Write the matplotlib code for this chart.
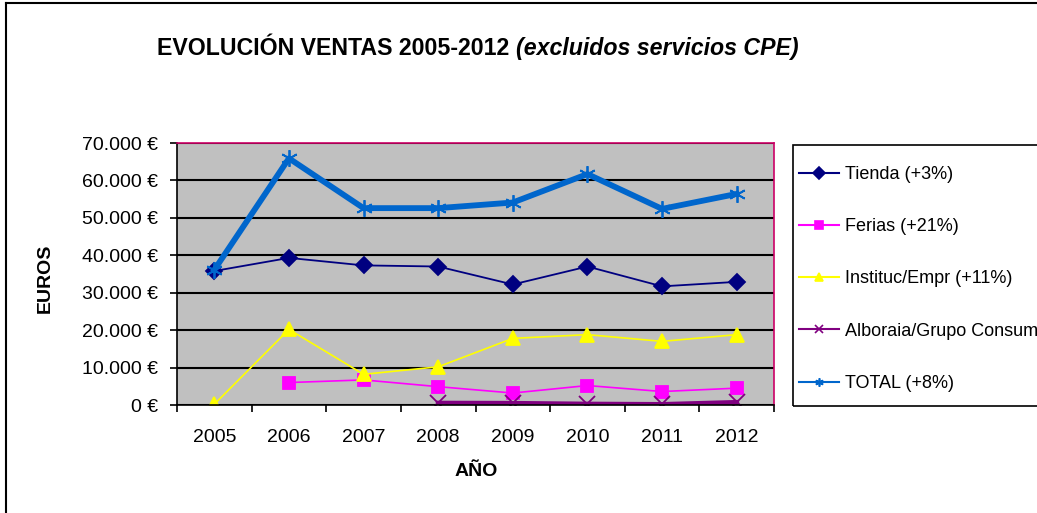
import matplotlib
matplotlib.use("Agg")
import matplotlib.pyplot as plt
from matplotlib.lines import Line2D
from matplotlib.patches import Rectangle
from matplotlib.ticker import FuncFormatter

plt.rcParams['font.family'] = ['Liberation Sans', 'DejaVu Sans']

# datos
years = [2005, 2006, 2007, 2008, 2009, 2010, 2011, 2012]
tienda = [35800, 39300, 37300, 37000, 32200, 37000, 31700, 32900]
ferias = [None, 6000, 6700, 4900, 3200, 5200, 3600, 4500]
instituc = [200, 20200, 8200, 10200, 17800, 18800, 17000, 18800]
alboraia = [None, None, None, 500, 450, 250, 150, 700]
total = [36100, 65900, 52600, 52600, 54100, 61700, 52400, 56400]

labels = ["Tienda (+3%)", "Ferias (+21%)", "Instituc/Empr (+11%)",
          "Alboraia/Grupo Consumo", "TOTAL (+8%)"]
yticks = [0, 10000, 20000, 30000, 40000, 50000, 60000, 70000]

W, H = 1037, 513

# estilo de cada serie: color, marcador, grosor, tamano marcador
styles = [
    ('#000080', 'D', 1.3, 8),
    ('#FF00FF', 's', 1.2, 8.5),
    ('#FFFF00', '^', 1.2, 10),
    ('#800080', 'x', 3.5, 11),
    ('#0066CC', (6, 2, 0), 4.2, 12),
]
series = [tienda, ferias, instituc, alboraia, total]


def clean(xs, ys):
    pts = [(x, y) for x, y in zip(xs, ys) if y is not None]
    return [p[0] for p in pts], [p[1] for p in pts]


fig = plt.figure(figsize=(W/100, H/100), dpi=100)
ax = fig.add_axes([177/W, 1-405/H, (774-177)/W, (405-143)/H])
ax.set_facecolor('#C0C0C0')

handles = []
for data, (col, mk, lw, ms), lab in zip(series, styles, labels):
    x, y = clean(years, data)
    ax.plot(x, y, color=col, lw=lw, marker=mk, ms=ms, mew=1.3)
    handles.append(Line2D([], [], color=col, lw=1.5, marker=mk, ms=6, mew=1.2))

ax.set_xlim(2004.5, 2012.5)
ax.set_ylim(0, 70000)
ax.set_yticks(yticks)
ax.yaxis.set_major_formatter(FuncFormatter(lambda v, p: f"{int(v):,} €".replace(",", ".")))
ax.set_xticks(years)
ax.set_xticks([yy - 0.5 for yy in years] + [2012.5], minor=True)
ax.tick_params(axis='x', which='major', length=0, pad=17, labelsize=14)
ax.tick_params(axis='x', which='minor', length=5, direction='out', width=1.2)
ax.tick_params(axis='y', length=5, direction='out', width=1.2, pad=8.5, labelsize=14)
ax.yaxis.grid(True, color='black', lw=1.5)
ax.set_axisbelow(True)

for s in ['left', 'bottom']:
    ax.spines[s].set_color('black')
    ax.spines[s].set_linewidth(1.2)
for s in ['top', 'right']:
    ax.spines[s].set_color('#CC0066')
    ax.spines[s].set_linewidth(1.2)

fig.text(45/W, 1-278/H, "EUROS", rotation=90, fontsize=14, fontweight='bold',
         ha='center', va='center')
fig.text(476/W, 1-472/H, "AÑO", fontsize=14, fontweight='bold',
         ha='center', va='center')

t = fig.text(157/W, 1-55/H, "EVOLUCIÓN VENTAS 2005-2012 ", fontsize=16.7,
             fontweight='bold', ha='left', va='baseline')
fig.canvas.draw()
bb = t.get_window_extent()
fig.text(bb.x1/W, 1-55/H, "(excluidos servicios CPE)", fontsize=16.7,
         fontweight='bold', style='italic', ha='left', va='baseline')

# leyenda sin marco y un rectangulo aparte
fig.legend(handles, labels, loc='upper left', bbox_to_anchor=(799/W, 1-166/H),
           fontsize=13, frameon=False, labelspacing=1.95, borderpad=0,
           handlelength=2.2, handletextpad=0.33, borderaxespad=0)
fig.add_artist(Rectangle((793/W, 1-406/H), 0.5, (406-145)/H, transform=fig.transFigure,
                         fill=False, ec='black', lw=1.2))

# marco exterior del grafico
fig.add_artist(Line2D([6/W, 6/W], [0, 1-3/H], color='black', lw=1.5))
fig.add_artist(Line2D([6/W, 1], [1-3/H, 1-3/H], color='black', lw=1.5))

fig.savefig("out.png", dpi=100)
